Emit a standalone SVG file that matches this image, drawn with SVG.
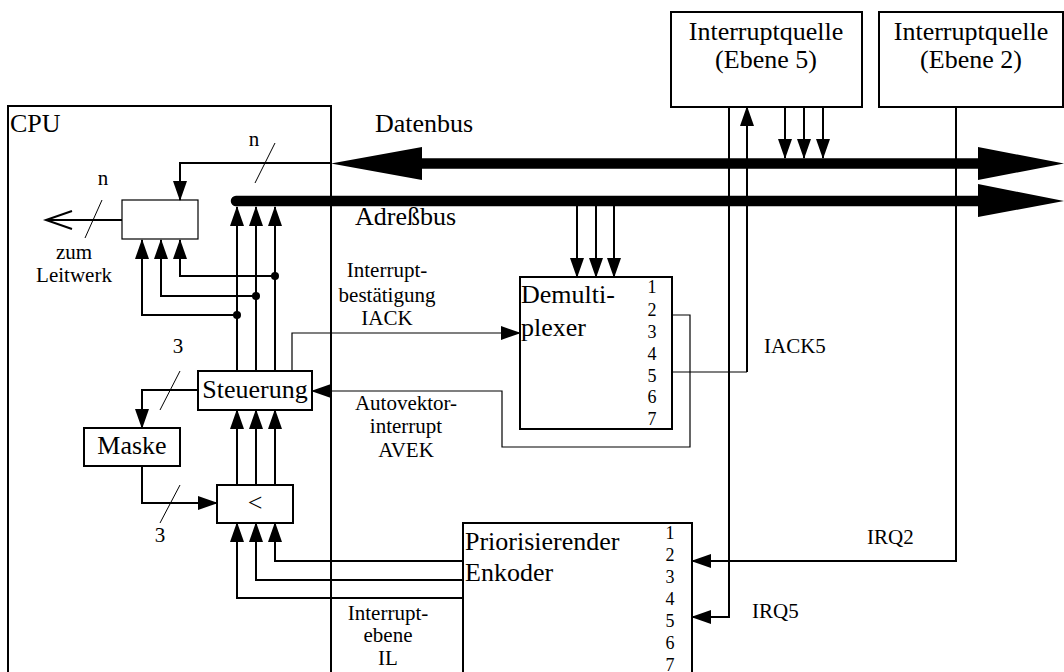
<svg xmlns="http://www.w3.org/2000/svg" width="1064" height="672" viewBox="0 0 1064 672">
<style>
text{font-family:"Liberation Serif","Times New Roman",serif;fill:#000}
.big{font-size:26px}
.lbl{font-size:21px}
.num{font-size:18px}
.box{fill:#fff;stroke:#000;stroke-width:2}
.thinbox{fill:#fff;stroke:#000;stroke-width:1.2}
.w{fill:none;stroke:#000;stroke-width:2}
.t{fill:none;stroke:#000;stroke-width:1.2}
.s{fill:none;stroke:#000;stroke-width:1}
.a{marker-end:url(#ah)}
.bus{stroke:#000;stroke-width:10.5;fill:none}
</style>
<defs>
<marker id="ah" markerUnits="userSpaceOnUse" markerWidth="20" markerHeight="14" refX="19" refY="7" orient="auto">
<path d="M0,0 L20,7 L0,14 z" fill="#000"/>
</marker>
</defs>
<rect width="1064" height="672" fill="#fff"/>

<g id="cpu">
<rect class="box" x="8" y="106" width="323" height="580"/>
<text class="big" x="10" y="132">CPU</text>
</g>

<g id="q5">
<rect class="box" x="671" y="12" width="191" height="95"/>
<text class="big" x="766" y="40" text-anchor="middle">Interruptquelle</text>
<text class="big" x="766" y="68" text-anchor="middle">(Ebene 5)</text>
</g>
<g id="q2">
<rect class="box" x="879" y="12" width="184" height="95"/>
<text class="big" x="971" y="40" text-anchor="middle">Interruptquelle</text>
<text class="big" x="971" y="68" text-anchor="middle">(Ebene 2)</text>
</g>

<g id="register">
<rect class="thinbox" x="122" y="200" width="76" height="39"/>
</g>
<g id="steuerung">
<rect class="box" x="198" y="371" width="114" height="39"/>
<text class="big" x="255" y="398" text-anchor="middle">Steuerung</text>
</g>
<g id="maske">
<rect class="box" x="84" y="428" width="96" height="38"/>
<text class="big" x="132" y="454" text-anchor="middle">Maske</text>
</g>
<g id="vergleicher">
<rect class="box" x="217" y="485" width="76" height="38"/>
<text class="big" x="255" y="511" text-anchor="middle">&lt;</text>
</g>
<g id="demux">
<rect class="box" x="520" y="277" width="152" height="152"/>
<text class="big" x="521" y="303">Demulti-</text>
<text class="big" x="521" y="336">plexer</text>
<g class="num" text-anchor="middle">
<text class="num" x="652" y="293">1</text>
<text class="num" x="652" y="316">2</text>
<text class="num" x="652" y="338">3</text>
<text class="num" x="652" y="360">4</text>
<text class="num" x="652" y="382">5</text>
<text class="num" x="652" y="403">6</text>
<text class="num" x="652" y="425">7</text>
</g>
</g>
<g id="encoder">
<rect class="box" x="463" y="523" width="229" height="170"/>
<text class="big" x="465" y="550">Priorisierender</text>
<text class="big" x="465" y="581">Enkoder</text>
<g text-anchor="middle">
<text class="num" x="670" y="539">1</text>
<text class="num" x="670" y="561">2</text>
<text class="num" x="670" y="583">3</text>
<text class="num" x="670" y="605">4</text>
<text class="num" x="670" y="627">5</text>
<text class="num" x="670" y="649">6</text>
<text class="num" x="670" y="671">7</text>
</g>
</g>

<g id="connectors">
<!-- buses -->
<line class="bus" x1="420" y1="163.5" x2="980" y2="163.5"/>
<polygon points="331,163.5 422,147 422,180" fill="#000"/>
<polygon points="978,147 1064,163.5 978,180" fill="#000"/>
<line class="bus" x1="236" y1="201" x2="980" y2="201" stroke-linecap="round"/>
<polygon points="978,184 1064,201 978,217" fill="#000"/>

<!-- data bus into register -->
<path class="w a" d="M331,163 H180 V200"/>
<line class="s" x1="275" y1="143" x2="255" y2="183"/>
<!-- register out -->
<line class="w" x1="122" y1="220" x2="46" y2="220"/>
<polyline class="w" points="72,211 46,220 72,229"/>
<line class="s" x1="102" y1="200" x2="85" y2="238"/>

<!-- Steuerung to address bus -->
<path class="w a" d="M237,371 V207"/>
<path class="w a" d="M256,371 V207"/>
<path class="w a" d="M275,371 V207"/>
<!-- taps into register -->
<path class="w a" d="M275,276 H180 V240"/>
<path class="w a" d="M256,296 H161 V240"/>
<path class="w a" d="M237,315 H142 V240"/>
<circle cx="275" cy="276" r="4"/>
<circle cx="256" cy="296" r="4"/>
<circle cx="237" cy="315" r="4"/>

<!-- Steuerung to Maske -->
<path class="w a" d="M198,390 H142 V428"/>
<line class="s" x1="180" y1="371" x2="160" y2="410"/>
<!-- Maske to < -->
<path class="w a" d="M142,466 V503 H217"/>
<line class="s" x1="180" y1="485" x2="160" y2="523"/>
<!-- < to Steuerung -->
<path class="w a" d="M237,485 V410"/>
<path class="w a" d="M256,485 V410"/>
<path class="w a" d="M275,485 V410"/>
<!-- encoder to < -->
<path class="w a" d="M463,561 H275 V523"/>
<path class="w a" d="M463,580 H256 V523"/>
<path class="w a" d="M463,598 H237 V523"/>

<!-- IACK -->
<path class="t a" d="M292,371 V333 H520"/>
<!-- AVEK -->
<path class="t a" d="M672,315 H690 V447 H502 V391 H312"/>
<!-- IACK5 -->
<path class="t" d="M672,372 H747"/>
<path class="w a" d="M747,372 V107"/>
<!-- address bus to demux -->
<path class="w a" d="M577,206 V277"/>
<path class="w a" d="M596,206 V277"/>
<path class="w a" d="M614,206 V277"/>
<!-- source 5 to data bus -->
<path class="w a" d="M785,107 V158"/>
<path class="w a" d="M804,107 V158"/>
<path class="w a" d="M823,107 V158"/>
<!-- IRQ5, IRQ2 -->
<path class="w a" d="M729,107 V617 H692"/>
<path class="w a" d="M956,107 V561 H692"/>
</g>

<g id="labels">
<text class="big" x="375" y="132">Datenbus</text>
<text class="big" x="355" y="225">Adreßbus</text>
<text class="lbl" x="254" y="146" text-anchor="middle">n</text>
<text class="lbl" x="103" y="185" text-anchor="middle">n</text>
<text class="lbl" x="74" y="259" text-anchor="middle">zum</text>
<text class="lbl" x="74" y="282" text-anchor="middle">Leitwerk</text>
<text class="lbl" x="178" y="353" text-anchor="middle">3</text>
<text class="lbl" x="160" y="542" text-anchor="middle">3</text>
<text class="lbl" x="387" y="277" text-anchor="middle">Interrupt-</text>
<text class="lbl" x="387" y="302" text-anchor="middle">bestätigung</text>
<text class="lbl" x="387" y="325" text-anchor="middle">IACK</text>
<text class="lbl" x="406" y="410" text-anchor="middle">Autovektor-</text>
<text class="lbl" x="406" y="433" text-anchor="middle">interrupt</text>
<text class="lbl" x="406" y="457" text-anchor="middle">AVEK</text>
<text class="lbl" x="764" y="353">IACK5</text>
<text class="lbl" x="867" y="544">IRQ2</text>
<text class="lbl" x="752" y="618">IRQ5</text>
<text class="lbl" x="388" y="620" text-anchor="middle">Interrupt-</text>
<text class="lbl" x="388" y="642" text-anchor="middle">ebene</text>
<text class="lbl" x="388" y="665" text-anchor="middle">IL</text>
</g>
</svg>
